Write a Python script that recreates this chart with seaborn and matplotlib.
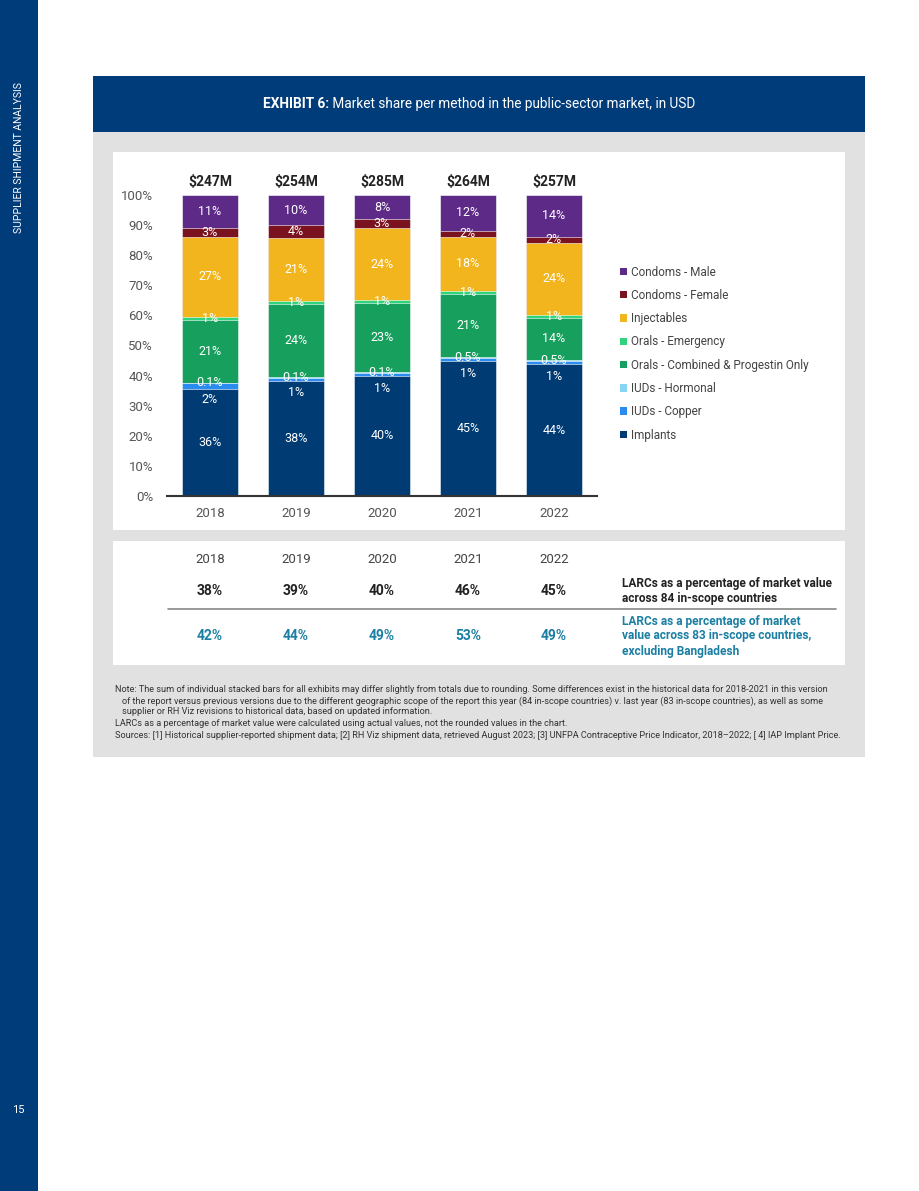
import matplotlib
matplotlib.use('agg')
import matplotlib.pyplot as plt
import matplotlib.transforms as mtransforms
from matplotlib.patches import Rectangle, Patch
from matplotlib.text import Annotation
import numpy as np
import pandas as pd
import seaborn as sns

### data ###
years = ["2018", "2019", "2020", "2021", "2022"]
totals = [247, 254, 285, 264, 257]  # $M

# bottom to top
methods = ["Implants", "IUDs - Copper", "IUDs - Hormonal",
           "Orals - Combined & Progestin Only", "Orals - Emergency",
           "Injectables", "Condoms - Female", "Condoms - Male"]
implants = [36, 38, 40, 45, 44]
iud_copper = [2, 1, 1, 1, 1]
iud_hormonal = [0.1, 0.1, 0.1, 0.5, 0.5]
orals_combined = [21, 24, 23, 21, 14]
orals_emergency = [1, 1, 1, 1, 1]
injectables = [27, 21, 24, 18, 24]
condoms_female = [3, 4, 3, 2, 2]
condoms_male = [11, 10, 8, 12, 14]

larc_84 = [38, 39, 40, 46, 45]
larc_83 = [42, 44, 49, 53, 49]

colors = ["#003b73", "#2a8cf0", "#86d6f2", "#17a05d",
          "#2fd47d", "#f2b51d", "#7b121f", "#5e2a87"]

NAVY = "#003b7a"
GRAY_BG = "#e1e1e1"
TEAL = "#1b7fa3"

df = pd.DataFrame([implants, iud_copper, iud_hormonal, orals_combined,
                   orals_emergency, injectables, condoms_female, condoms_male],
                  index=methods, columns=years)
# 100% stacked
share = df / df.sum() * 100
cum = share.cumsum()

### figure ###
sns.set_style("white")
plt.rcParams['font.family'] = ['Roboto', 'DejaVu Sans']

W, H = 920, 1191
fig = plt.figure(figsize=(W / 100, H / 100), dpi=100)


def fx(x):
    return x / W


def fy(y):
    return 1 - y / H


def rect(x0, y0, x1, y1, color):
    fig.add_artist(Rectangle((fx(x0), fy(y1)), fx(x1) - fx(x0), fy(y0) - fy(y1),
                             transform=fig.transFigure, facecolor=color,
                             edgecolor="none", zorder=0))


# page frame
rect(0, 0, 38, H, NAVY)
fig.text(fx(19), fy(158), "SUPPLIER SHIPMENT ANALYSIS", rotation=90, color="white",
         fontsize=7.5, ha="center", va="center")
fig.text(fx(18), fy(1110), "15", color="white", fontsize=8, ha="center", va="center")

rect(93, 76, 865, 757, GRAY_BG)
rect(93, 76, 865, 132, NAVY)
rect(113, 152, 845, 530, "white")
rect(113, 541, 845, 665, "white")

t1 = fig.text(fx(263), fy(104), "EXHIBIT 6:", color="white", fontsize=9.8,
              fontweight="bold", ha="left", va="center")
fig.add_artist(Annotation(" Market share per method in the public-sector market, in USD",
                          xy=(1, 0.5), xycoords=t1, color="white", fontsize=9.8,
                          ha="left", va="center"))

### chart ###
ax = fig.add_axes([fx(167), fy(496), fx(597) - fx(167), fy(195) - fy(496)])
for k in range(len(methods) - 1, -1, -1):
    sns.barplot(x=years, y=cum.iloc[k].values, color=colors[k], saturation=1,
                width=0.64, edgecolor="white", linewidth=0.4, ax=ax)

for i, yr in enumerate(years):
    for k, m in enumerate(methods):
        v = df.loc[m, yr]
        mid = cum.iloc[k][yr] - share.loc[m, yr] / 2
        dy = -10 if m == "IUDs - Copper" else 0
        ax.annotate(f"{v:g}%", (i, mid), xytext=(0, dy), textcoords="offset points",
                    ha="center", va="center", color="white", fontsize=9)
    ax.annotate(f"${totals[i]}M", (i, 100), xytext=(0, 9), textcoords="offset points",
                ha="center", va="center", color="#222222", fontsize=10,
                fontweight="bold", annotation_clip=False)

ax.set_xlim(-0.5, 4.5)
ax.set_ylim(0, 100)
ax.set_yticks(range(0, 101, 10))
ax.set_yticklabels([f"{t}%" for t in range(0, 101, 10)])
ax.tick_params(axis="both", length=0, labelsize=9.5, labelcolor="#555555")
ax.tick_params(axis="y", pad=10)
ax.tick_params(axis="x", pad=8)
ax.set_xlabel("")
ax.set_ylabel("")
for s in ["left", "right", "top"]:
    ax.spines[s].set_visible(False)
ax.spines["bottom"].set_color("#333333")
ax.spines["bottom"].set_linewidth(1.5)
ax.set_facecolor("none")

handles = [Patch(facecolor=colors[k], edgecolor="none") for k in range(len(methods))][::-1]
ax.legend(handles, methods[::-1], loc="upper left", bbox_to_anchor=(fx(609), fy(255)),
          bbox_transform=fig.transFigure, frameon=False, fontsize=8.5,
          handlelength=0.6, handleheight=0.6, handletextpad=0.4,
          labelspacing=0.87, labelcolor="#444444")

### table ###
tr = mtransforms.blended_transform_factory(ax.transData, fig.transFigure)
for i, yr in enumerate(years):
    fig.text(i, fy(560), yr, transform=tr, ha="center", va="center",
             fontsize=9.5, color="#444444")
    fig.text(i, fy(591), f"{larc_84[i]}%", transform=tr, ha="center", va="center",
             fontsize=10, fontweight="bold", color="#222222")
    fig.text(i, fy(636), f"{larc_83[i]}%", transform=tr, ha="center", va="center",
             fontsize=10, fontweight="bold", color=TEAL)

fig.text(fx(622), fy(591), "LARCs as a percentage of market value\nacross 84 in-scope countries",
         ha="left", va="center", fontsize=8.6, fontweight="bold", color="#222222",
         linespacing=1.2)
fig.text(fx(622), fy(636), "LARCs as a percentage of market\nvalue across 83 in-scope countries,\nexcluding Bangladesh",
         ha="left", va="center", fontsize=8.6, fontweight="bold", color=TEAL,
         linespacing=1.2)
fig.add_artist(plt.Line2D([fx(168), fx(836)], [fy(609), fy(609)], color="#888888",
                          linewidth=1.2, transform=fig.transFigure))

### notes ###
notes = [
    (115, 689, "Note: The sum of individual stacked bars for all exhibits may differ slightly from totals due to rounding. Some differences exist in the historical data for 2018-2021 in this version"),
    (122, 701, "of the report versus previous versions due to the different geographic scope of the report this year (84 in-scope countries) v. last year (83 in-scope countries), as well as some"),
    (122, 712, "supplier or RH Viz revisions to historical data, based on updated information."),
    (115, 724, "LARCs as a percentage of market value were calculated using actual values, not the rounded values in the chart."),
    (115, 735, "Sources: [1] Historical supplier-reported shipment data; [2] RH Viz shipment data, retrieved August 2023; [3] UNFPA Contraceptive Price Indicator, 2018\u20132022; [ 4] IAP Implant Price."),
]
for x, y, s in notes:
    fig.text(fx(x), fy(y), s, ha="left", va="center", fontsize=6.55, color="#333333")

fig.savefig("out.png", dpi=100)
